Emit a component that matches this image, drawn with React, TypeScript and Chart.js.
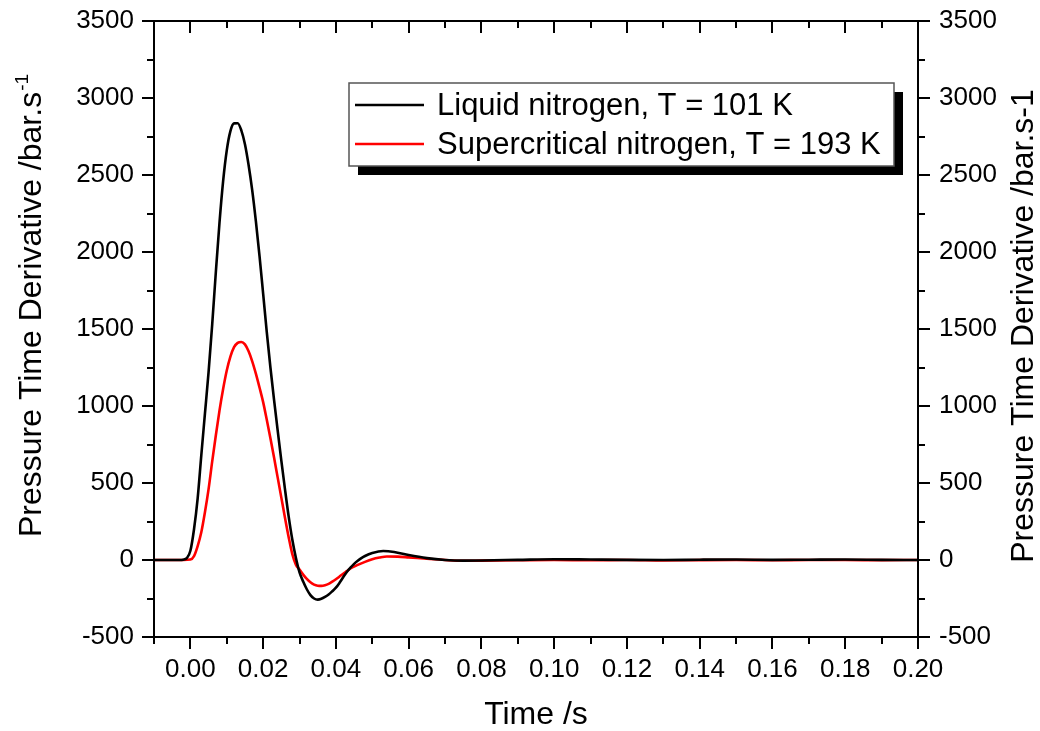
import React, { useEffect, useRef } from 'react';
import { Chart, registerables } from 'chart.js';

Chart.register(...registerables);

// ---- Data ----
const T_LIQUID = [
  -0.01, -0.005, -0.003, -0.002, -0.001, 0, 0.001, 0.002, 0.003, 0.004, 0.005, 0.006, 0.007, 0.008,
  0.009, 0.01, 0.011, 0.012, 0.013, 0.014, 0.015, 0.016, 0.017, 0.018, 0.019, 0.02, 0.021,
  0.022, 0.023, 0.024, 0.025, 0.026, 0.027, 0.028, 0.029, 0.03, 0.031, 0.032, 0.033, 0.034, 0.035,
  0.036, 0.037, 0.038, 0.039, 0.04, 0.041, 0.042, 0.043, 0.044, 0.045, 0.046, 0.047, 0.048, 0.05,
  0.053, 0.056, 0.06, 0.065, 0.07, 0.075, 0.08, 0.09, 0.1, 0.11, 0.12, 0.13, 0.14, 0.15, 0.16, 0.17,
  0.18, 0.19, 0.2,
];
const P_LIQUID = [
  0, 0, 0, 2, 12, 60, 200, 400, 680, 950, 1220, 1530, 1870, 2190,
  2460, 2660, 2785, 2835, 2836, 2790, 2700, 2565, 2400, 2200, 1975, 1730, 1480,
  1250, 1040, 840, 645, 460, 285, 135, 15, -80, -140, -190, -228, -250, -257,
  -252, -240, -224, -203, -180, -148, -112, -78, -50, -25, -5, 12, 26, 45,
  58, 52, 32, 12, 0, -4, -3, 1, 5, 3, 1, 0, 2, 3, 1, 2,
  3, 1, 0,
];

const T_SUPER = [
  -0.01, -0.002, 0, 0.001, 0.002, 0.003, 0.004, 0.005, 0.006, 0.007, 0.008, 0.009, 0.01, 0.011,
  0.012, 0.013, 0.014, 0.015, 0.016, 0.017, 0.018, 0.019, 0.02, 0.021, 0.022, 0.023, 0.024, 0.025,
  0.026, 0.027, 0.028, 0.029, 0.03, 0.031, 0.032, 0.033, 0.034, 0.035, 0.036, 0.037, 0.038, 0.039,
  0.04, 0.041, 0.042, 0.043, 0.044, 0.046, 0.048, 0.05, 0.052, 0.054, 0.057, 0.06, 0.065, 0.07,
  0.075, 0.08, 0.09, 0.1, 0.11, 0.12, 0.13, 0.14, 0.15, 0.16, 0.17, 0.18, 0.19, 0.2,
];
const P_SUPER = [
  0, 0, 3, 25, 90, 180, 310, 460, 640, 810, 970, 1110, 1230, 1320,
  1382, 1410, 1416, 1400, 1355, 1290, 1210, 1120, 1025, 910, 790, 665, 535, 405,
  275, 150, 40, -30, -62, -95, -123, -145, -160, -167, -168, -164, -155, -141,
  -125, -107, -89, -72, -55, -32, -12, 5, 16, 23, 22, 17, 8, 0,
  -5, -4, -2, 0, -2, 0, -3, -1, 0, -2, 0, 0, -1, 0,
];

const SERIES_LABELS = ['Liquid nitrogen, T = 101 K', 'Supercritical nitrogen, T = 193 K'];
const SERIES_COLORS = ['#000000', '#ff0000'];

const X_TICKS = [0, 0.02, 0.04, 0.06, 0.08, 0.1, 0.12, 0.14, 0.16, 0.18, 0.2];
const X_MINOR = [-0.01, 0.01, 0.03, 0.05, 0.07, 0.09, 0.11, 0.13, 0.15, 0.17, 0.19];
const Y_TICKS = [-500, 0, 500, 1000, 1500, 2000, 2500, 3000, 3500];
const Y_MINOR = [-250, 250, 750, 1250, 1750, 2250, 2750, 3250];

const X_TITLE = 'Time /s';
const Y_TITLE_LEFT_MAIN = 'Pressure Time Derivative /bar.s';
const Y_TITLE_LEFT_SUP = '-1';
const Y_TITLE_RIGHT = 'Pressure Time Derivative /bar.s-1';

const FONT = "'Liberation Sans', Arial, 'DejaVu Sans', sans-serif";

const frameTicks = {
  id: 'frameTicks',
  afterDraw(chart: any) {
    const { ctx, chartArea: a, scales } = chart;
    const xs = scales.x;
    const ys = scales.y;
    const MAJ = 11;
    const MIN = 6;
    ctx.save();
    ctx.strokeStyle = '#000';
    ctx.lineWidth = 2;
    ctx.lineCap = 'square';
    ctx.beginPath();
    const xTick = (v: number, len: number) => {
      const px = Math.round(xs.getPixelForValue(v));
      ctx.moveTo(px, a.bottom);
      ctx.lineTo(px, a.bottom + len);
      ctx.moveTo(px, a.top);
      ctx.lineTo(px, a.top + len);
    };
    const yTick = (v: number, len: number) => {
      const py = Math.round(ys.getPixelForValue(v));
      ctx.moveTo(a.left, py);
      ctx.lineTo(a.left - len, py);
      ctx.moveTo(a.right, py);
      ctx.lineTo(a.right + len, py);
    };
    X_TICKS.forEach((v) => xTick(v, MAJ));
    X_MINOR.forEach((v) => xTick(v, MIN));
    Y_TICKS.forEach((v) => yTick(v, MAJ));
    Y_MINOR.forEach((v) => yTick(v, MIN));
    ctx.stroke();
    ctx.lineCap = 'butt';
    ctx.strokeRect(a.left, a.top, a.right - a.left, a.bottom - a.top);
    ctx.restore();
  },
};

const axisTitles = {
  id: 'axisTitles',
  afterDraw(chart: any, _args: any, opts: any) {
    const { ctx } = chart;
    ctx.save();
    ctx.fillStyle = '#000';
    ctx.textBaseline = 'alphabetic';
    ctx.textAlign = 'left';
    // left title with superscript
    ctx.save();
    ctx.translate(opts.leftX, opts.leftY);
    ctx.rotate(-Math.PI / 2);
    ctx.font = `${opts.size}px ${FONT}`;
    const wm = ctx.measureText(Y_TITLE_LEFT_MAIN).width;
    ctx.font = `${opts.supSize}px ${FONT}`;
    const ws = ctx.measureText(Y_TITLE_LEFT_SUP).width;
    const start = -(wm + ws) / 2;
    ctx.font = `${opts.size}px ${FONT}`;
    ctx.fillText(Y_TITLE_LEFT_MAIN, start, 0);
    ctx.font = `${opts.supSize}px ${FONT}`;
    ctx.fillText(Y_TITLE_LEFT_SUP, start + wm + 1, -opts.supRise);
    ctx.restore();
    // right title
    ctx.save();
    ctx.translate(opts.rightX, opts.rightY);
    ctx.rotate(-Math.PI / 2);
    ctx.font = `${opts.size}px ${FONT}`;
    ctx.textAlign = 'center';
    ctx.fillText(Y_TITLE_RIGHT, 0, 0);
    ctx.restore();
    ctx.restore();
  },
};

const shadowLegend = {
  id: 'shadowLegend',
  afterDraw(chart: any, _args: any, opts: any) {
    const { ctx } = chart;
    const { x, y, w, h, shadow } = opts;
    ctx.save();
    ctx.fillStyle = '#000';
    ctx.fillRect(x + shadow, y + shadow, w, h);
    ctx.fillStyle = '#fff';
    ctx.fillRect(x, y, w, h);
    ctx.strokeStyle = '#555';
    ctx.lineWidth = 1.5;
    ctx.strokeRect(x, y, w, h);
    ctx.font = `${opts.fontSize}px ${FONT}`;
    ctx.textBaseline = 'middle';
    ctx.textAlign = 'left';
    chart.data.datasets.forEach((ds: any, i: number) => {
      const ly = y + opts.firstRow + i * opts.rowGap;
      ctx.strokeStyle = ds.borderColor;
      ctx.lineWidth = 2.4;
      ctx.beginPath();
      ctx.moveTo(x + 6, ly);
      ctx.lineTo(x + 6 + opts.sample, ly);
      ctx.stroke();
      ctx.fillStyle = '#000';
      ctx.fillText(ds.label, x + opts.textX, ly + 1);
    });
    ctx.restore();
  },
};

export default function App() {
  const ref = useRef<HTMLCanvasElement | null>(null);

  useEffect(() => {
    if (!ref.current) return;
    const makePoints = (ts: number[], ps: number[]) => ts.map((t, i) => ({ x: t, y: ps[i] }));
    const tickFont = { family: FONT, size: 26 };
    const titleFont = { family: FONT, size: 32 };
    const fitY = (w: number) => (s: any) => {
      s.width = w;
      s.paddingTop = 0;
      s.paddingBottom = 0;
    };
    const chart = new Chart(ref.current, {
      type: 'scatter',
      data: {
        datasets: [
          {
            label: SERIES_LABELS[0],
            data: makePoints(T_LIQUID, P_LIQUID),
            borderColor: SERIES_COLORS[0],
            backgroundColor: SERIES_COLORS[0],
            showLine: true,
            pointRadius: 0,
            borderWidth: 2.6,
            cubicInterpolationMode: 'monotone',
            yAxisID: 'y',
          },
          {
            label: SERIES_LABELS[1],
            data: makePoints(T_SUPER, P_SUPER),
            borderColor: SERIES_COLORS[1],
            backgroundColor: SERIES_COLORS[1],
            showLine: true,
            pointRadius: 0,
            borderWidth: 2.6,
            cubicInterpolationMode: 'monotone',
            yAxisID: 'y',
          },
        ],
      },
      options: {
        animation: false,
        responsive: false,
        devicePixelRatio: 1,
        layout: { padding: { top: 21, left: 0, right: 0, bottom: 0 } },
        plugins: {
          legend: { display: false },
          tooltip: { enabled: false },
          shadowLegend: {
            x: 349,
            y: 83,
            w: 545,
            h: 83,
            shadow: 9,
            firstRow: 22,
            rowGap: 39,
            sample: 69,
            textX: 88,
            fontSize: 31,
          },
          axisTitles: {
            leftX: 41,
            leftY: 306,
            rightX: 1033,
            rightY: 326,
            size: 32,
            supSize: 19,
            supRise: 13,
          },
        } as any,
        scales: {
          x: {
            type: 'linear',
            position: 'bottom',
            min: -0.01,
            max: 0.2,
            afterFit: (s: any) => {
              s.height = 94;
              s.paddingLeft = 0;
              s.paddingRight = 0;
            },
            afterBuildTicks: (s: any) => {
              s.ticks = X_TICKS.map((v) => ({ value: v }));
            },
            grid: { display: false, drawTicks: false },
            border: { display: false },
            ticks: {
              autoSkip: false,
              maxRotation: 0,
              padding: 17,
              color: '#000',
              font: tickFont,
              callback: (v: any) => Number(v).toFixed(2),
            },
            title: {
              display: true,
              text: X_TITLE,
              color: '#000',
              font: titleFont,
              padding: { top: 0, bottom: -3 },
            },
          },
          y: {
            type: 'linear',
            position: 'left',
            min: -500,
            max: 3500,
            afterFit: fitY(154),
            afterBuildTicks: (s: any) => {
              s.ticks = Y_TICKS.map((v) => ({ value: v }));
            },
            grid: { display: false, drawTicks: false },
            border: { display: false },
            ticks: {
              padding: 20,
              color: '#000',
              font: tickFont,
              callback: (v: any) => String(v),
            },
          },
          y2: {
            type: 'linear',
            position: 'right',
            min: -500,
            max: 3500,
            afterFit: fitY(122),
            afterBuildTicks: (s: any) => {
              s.ticks = Y_TICKS.map((v) => ({ value: v }));
            },
            grid: { display: false, drawTicks: false },
            border: { display: false },
            ticks: {
              padding: 21,
              color: '#000',
              font: tickFont,
              callback: (v: any) => String(v),
            },
          },
        },
      } as any,
      plugins: [frameTicks, shadowLegend, axisTitles],
    });
    return () => chart.destroy();
  }, []);

  return (
    <div style={{ position: 'absolute', left: 0, top: 0, width: 1040, height: 731, background: '#fff' }}>
      <canvas ref={ref} width={1040} height={731} style={{ display: 'block' }} />
    </div>
  );
}
